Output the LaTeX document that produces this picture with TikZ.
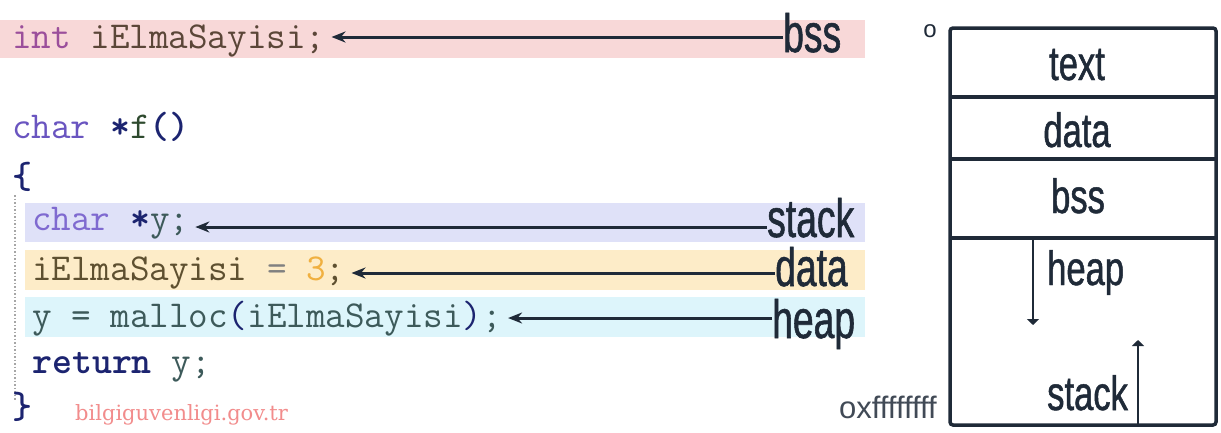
\documentclass[tikz,border=0pt]{standalone}
\usepackage{fontspec}
\newfontfamily\segfont[FakeStretch=0.69,FakeBold=1]{Liberation Sans}
\newfontfamily\boxfont[FakeStretch=0.72,FakeBold=1]{Liberation Sans}
\newfontfamily\addrfont{Liberation Sans}
\newfontfamily\markfont{DejaVu Serif}
\usetikzlibrary{arrows.meta,positioning}
\definecolor{bandpink}{HTML}{F8D8D8}
\definecolor{bandblue}{HTML}{DFE1F8}
\definecolor{bandorange}{HTML}{FDECC8}
\definecolor{bandcyan}{HTML}{DDF5FB}
\definecolor{kwint}{HTML}{9B4F9B}
\definecolor{kwchar}{HTML}{6A55C0}
\definecolor{kwcharlt}{HTML}{7F6AD0}
\definecolor{varbrown}{HTML}{5B4638}
\definecolor{varolive}{HTML}{5E5030}
\definecolor{varteal}{HTML}{3D5A5A}
\definecolor{numorange}{HTML}{F0B040}
\definecolor{codenavy}{HTML}{1C2470}
\definecolor{fgreen}{HTML}{2E4A2E}
\definecolor{inkdark}{HTML}{1F2A38}
\definecolor{markpink}{HTML}{F28C8C}

\begin{document}
\begin{tikzpicture}[x=1pt,y=-1pt,>={Stealth[length=14pt,width=11pt]},
  codeline/.style={font=\fontsize{38}{40}\selectfont\ttfamily, inner sep=0pt, anchor=base west},
  seglabel/.style={font=\segfont\fontsize{54}{54}\selectfont, inner sep=0pt, anchor=base west, text=inkdark},
  boxlabel/.style={font=\boxfont\fontsize{48}{48}\selectfont, inner sep=0pt, text=inkdark},
  ptr/.style={->, line width=3pt, inkdark},
  growarrow/.style={-{Triangle[length=6pt,width=12pt]}, line width=2.4pt, inkdark},
  memline/.style={line width=3.5pt, inkdark}]

\useasboundingbox (0,0) rectangle (1221,432);
\fill[white] (0,0) rectangle (1221,432);

% highlight bands behind the code
\fill[bandpink]   (0,20)   rectangle (865,58);
\fill[bandblue]   (25,203) rectangle (865,242);
\fill[bandorange] (25,250) rectangle (865,290);
\fill[bandcyan]   (25,297) rectangle (865,337);
\draw[gray!70, dotted, line width=1.5pt] (15,195) -- (15,400);

% code
\node[codeline] (lint) at (12,48)
  {\textcolor{kwint}{int} \textcolor{varbrown}{iElmaSayisi;}};
\node[codeline] (lfunc) at (12,138)
  {\textcolor{kwchar}{char} \textcolor{codenavy}{\bfseries*}\textcolor{fgreen}{f}\textcolor{codenavy}{\bfseries()}};
\node[codeline, text=codenavy] (lopen) at (12,188) {\bfseries\{};
\node[codeline] (lptr) at (32,230)
  {\textcolor{kwcharlt}{char} \textcolor{codenavy}{\bfseries*}\textcolor{varteal}{y;}};
\node[codeline] (lset) at (32,280)
  {\textcolor{varolive}{iElmaSayisi} \textcolor{gray}{=} \textcolor{numorange}{3}\textcolor{varolive}{;}};
\node[codeline, text=varteal] (lmal) at (32,327)
  {y = malloc\textcolor{codenavy}{(}iElmaSayisi\textcolor{codenavy}{)};};
\node[codeline] (lret) at (32,373)
  {\textcolor{codenavy}{\bfseries return} \textcolor{varteal}{y;}};
\node[codeline, text=codenavy] (lclose) at (12,418) {\bfseries\}};

\node[font=\markfont\fontsize{21}{21}\selectfont, text=markpink, inner sep=0pt, anchor=base west]
  (site) at (75,420) {bilgiguvenligi.gov.tr};

% segment labels and pointers
\node[seglabel] (lbss)   at (783,52)  {bss};
\node[seglabel] (lstack) at (767,237) {stack};
\node[seglabel] (ldata)  at (775,286) {data};
\node[seglabel] (lheap)  at (772,338) {heap};

\coordinate (ybss)   at (0,37);
\coordinate (ystack) at (0,227);
\coordinate (ydata)  at (0,273);
\coordinate (yheap)  at (0,318);

\draw[ptr] (lbss.west |- ybss)     -- ([xshift=6pt]lint.east |- ybss);
\draw[ptr] (lstack.west |- ystack) -- ([xshift=6pt]lptr.east |- ystack);
\draw[ptr] (ldata.west |- ydata)   -- ([xshift=6pt]lset.east |- ydata);
\draw[ptr] (lheap.west |- yheap)   -- ([xshift=6pt]lmal.east |- yheap);

% memory layout
\draw[memline, rounded corners=3pt] (950,28) rectangle (1216,425);
\draw[memline] (950,97)  -- (1216,97);
\draw[memline] (950,159) -- (1216,159);
\draw[memline] (950,238) -- (1216,238);

\node[boxlabel, anchor=base] (mtext) at (1077,80)  {text};
\node[boxlabel, anchor=base] (mdata) at (1077,147) {data};
\node[boxlabel, anchor=base] (mbss)  at (1078,213) {bss};
\node[boxlabel, anchor=base west] (mheap)  at (1047,285) {heap};
\node[boxlabel, anchor=base west] (mstack) at (1047,410) {stack};

\coordinate (heaptop) at (1033,238);
\coordinate (heaptip) at (1033,325);
\coordinate (stackbot) at (1138,425);
\coordinate (stacktip) at (1138,340);
\draw[growarrow] (heaptop) -- (heaptip);
\draw[growarrow] (stackbot) -- (stacktip);

\node[font=\addrfont\fontsize{24}{24}\selectfont, text=inkdark, inner sep=0pt] (lowaddr) at (930,31) {o};
\node[font=\addrfont\fontsize{31}{31}\selectfont, text=inkdark!85, inner sep=0pt, anchor=base east]
  (highaddr) at (937,418) {oxffffffff};
\end{tikzpicture}
\end{document}
